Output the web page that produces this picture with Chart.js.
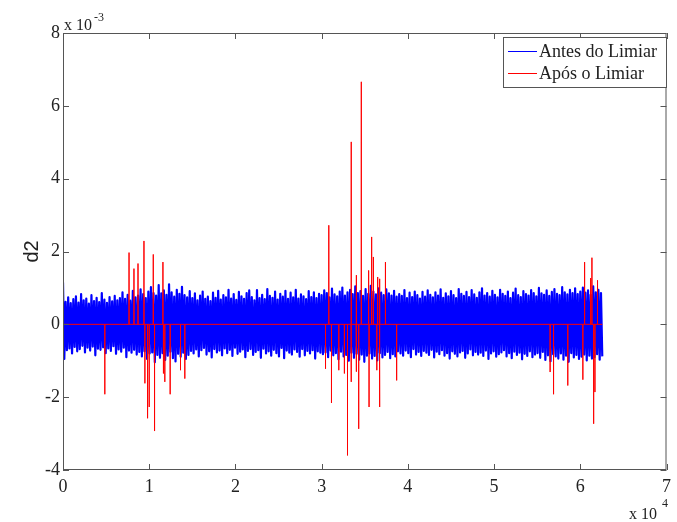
<!DOCTYPE html>
<html>
<head>
<meta charset="utf-8">
<script src="https://cdn.jsdelivr.net/npm/chart.js@4"></script>
<style>
  body { margin: 0; background: #fff; }
  #grafico { display: block; }
</style>
</head>
<body>
<canvas id="grafico" width="677" height="522"></canvas>
<script>
// coeficientes de detalhe d2 (x 10^-3), um valor a cada 150 amostras
const passo = 150
const antes = [
  1.15,-0.95,0.62,-0.71,0.74,-0.66,0.58,-0.80,0.69,-0.62,0.77,-0.74,0.60,-0.68,0.83,-0.59,0.66,-0.77,0.71,-0.64,
  0.57,-0.72,0.80,-0.61,0.64,-0.85,0.73,-0.67,0.61,-0.70,0.86,-0.63,0.68,-0.79,0.59,-0.66,0.75,-0.73,0.63,-0.60,
  0.78,-0.81,0.66,-0.69,0.72,-0.75,0.88,-0.64,0.70,-0.90,0.81,-0.72,0.65,-0.78,0.92,-0.70,0.74,-0.83,0.79,-0.76,
  0.96,-0.88,0.83,-0.74,0.72,-0.95,0.90,-0.80,1.02,-0.77,0.86,-1.04,0.79,-0.84,1.08,-0.92,0.85,-0.79,0.93,-0.98,
  0.81,-0.86,1.10,-0.75,0.88,-0.93,0.76,-1.02,0.95,-0.81,0.84,-0.89,1.03,-0.78,0.80,-0.95,0.74,-0.84,0.91,-0.73,
  0.72,-0.80,0.85,-0.69,0.66,-0.88,0.79,-0.71,0.90,-0.65,0.70,-0.83,0.76,-0.74,0.64,-0.91,0.87,-0.68,0.73,-0.77,
  0.92,-0.72,0.68,-0.85,0.80,-0.66,0.74,-0.79,0.95,-0.70,0.71,-0.87,0.83,-0.64,0.67,-0.81,0.89,-0.75,0.77,-0.69,
  0.70,-0.90,0.86,-0.73,0.93,-0.68,0.75,-0.84,0.66,-0.76,0.94,-0.71,0.72,-0.92,0.81,-0.67,0.69,-0.80,0.97,-0.74,
  0.78,-0.86,0.73,-0.70,0.90,-0.79,0.68,-0.88,0.84,-0.65,0.76,-0.93,0.92,-0.72,0.70,-0.78,0.87,-0.83,0.74,-0.69,
  0.95,-0.76,0.71,-0.89,0.82,-0.68,0.77,-0.85,0.69,-0.73,0.91,-0.80,0.75,-0.71,0.88,-0.94,0.72,-0.74,0.84,-0.78,
  0.80,-0.82,0.93,-0.77,0.86,-0.90,0.74,-0.72,0.98,-0.85,0.82,-0.79,0.77,-0.96,0.90,-0.75,1.01,-0.88,0.79,-0.84,
  0.88,-1.00,0.95,-0.78,0.83,-0.92,1.04,-0.81,0.86,-0.97,0.91,-0.83,0.78,-1.03,0.97,-0.86,0.84,-0.80,1.06,-0.94,
  0.90,-0.87,0.82,-0.99,0.99,-0.79,0.87,-0.91,0.80,-0.84,0.96,-0.76,0.85,-0.93,0.79,-0.82,0.92,-0.88,0.76,-0.74,
  0.83,-0.80,0.78,-0.86,0.94,-0.72,0.72,-0.79,0.87,-0.90,0.75,-0.68,0.90,-0.83,0.80,-0.76,0.71,-0.87,0.89,-0.73,
  0.76,-0.78,0.93,-0.84,0.81,-0.70,0.74,-0.91,0.88,-0.75,0.79,-0.82,0.96,-0.71,0.73,-0.86,0.85,-0.79,0.77,-0.94,
  0.91,-0.74,0.80,-0.81,0.72,-0.88,0.97,-0.77,0.84,-0.73,0.78,-0.92,0.89,-0.80,0.75,-0.69,0.94,-0.85,0.82,-0.76,
  0.73,-0.83,0.88,-0.78,0.99,-0.87,0.79,-0.72,0.86,-0.95,0.76,-0.80,0.92,-0.74,0.81,-0.89,0.74,-0.82,0.95,-0.77,
  0.84,-0.71,0.78,-0.88,0.90,-0.79,0.72,-0.93,0.87,-0.75,0.98,-0.84,0.80,-0.78,0.75,-0.96,0.91,-0.81,0.83,-0.87,
  0.79,-0.74,0.94,-0.90,0.86,-0.83,0.77,-0.79,1.00,-0.92,0.85,-0.76,0.81,-0.98,0.93,-0.85,0.78,-1.01,0.89,-0.82,
  0.97,-0.88,0.84,-0.94,0.80,-0.80,1.02,-0.97,0.88,-0.86,0.82,-1.03,0.95,-0.79,0.86,-0.91,0.99,-0.84,0.83,-0.95,
  0.90,-0.89,1.01,-0.83,0.87,-0.99,0.93,-0.86,0.81,-0.94,1.04,-0.90,0.88,-0.82,0.95,-0.97,0.86,-0.88
]

// coeficientes que sobraram depois do limiar (o resto vale zero)
const picos_x = [
  4850, 7660, 8230, 8700, 9390, 9500, 9810, 10000, 10470, 10620, 11590, 11650, 11810, 12430, 13630, 14130,
  30450, 30830, 31140, 31990, 32640, 33000, 33410, 33450, 34000, 34050, 34300, 34600, 35450, 35500, 35800,
  36000, 36400, 36500, 36700, 36750, 37400, 38700,
  56500, 56900, 58550, 60300, 60500, 61200, 61350, 61550, 61700, 62000
]
const picos_y = [
  -1.92, 1.97, 1.53, 1.67, 2.29, -1.62, -2.58, -2.27, 1.92, -2.93, 1.71, -1.35, -1.58, -1.92, -1.26, -1.49,
  -1.22, 2.72, -2.16, -1.26, -1.35, -3.60, 5.01, -1.58, 1.35, -1.30, -2.87, 6.66, 1.48, -2.27, 2.40,
  1.85, -1.26, 1.30, 1.25, -2.27, 1.71, -1.54,
  -1.31, -1.92, -1.68, -1.52, 1.71, 1.27, 1.83, -2.73, -1.86, 1.21
]

const x_ticks = [0, 1, 2, 3, 4, 5, 6, 7]
const y_ticks = [-4, -2, 0, 2, 4, 6, 8]
const nomes = ['Antes do Limiar', 'Após o Limiar']
const cores = ['#0000ff', '#ff0000']

const fim = (antes.length - 1) * passo

let pts_antes = antes.map((v, i) => ({ x: i * passo, y: v }))

let pts_depois = [{ x: 0, y: 0 }]
for (let i = 0; i < picos_x.length; i++) {
  pts_depois.push({ x: picos_x[i], y: 0 })
  pts_depois.push({ x: picos_x[i], y: picos_y[i] })
  pts_depois.push({ x: picos_x[i], y: 0 })
}
pts_depois.push({ x: fim, y: 0 })

const serif = '"Liberation Serif", "Times New Roman", serif'

// caixa, ticks para dentro, expoentes, rotulo d2 e legenda
const moldura = {
  id: 'moldura',
  afterDraw(chart) {
    const c = chart.ctx
    const a = chart.chartArea
    const sx = chart.scales.x
    const sy = chart.scales.y
    c.save()
    c.strokeStyle = '#555'
    c.lineWidth = 1
    c.strokeRect(a.left + 0.5, a.top + 0.5, a.right - a.left - 1, a.bottom - a.top - 1)
    c.beginPath()
    x_ticks.forEach(t => {
      const px = Math.round(sx.getPixelForValue(t * 10000)) + 0.5
      c.moveTo(px, a.bottom); c.lineTo(px, a.bottom - 6)
      c.moveTo(px, a.top); c.lineTo(px, a.top + 6)
    })
    y_ticks.forEach(t => {
      const py = Math.round(sy.getPixelForValue(t)) + 0.5
      c.moveTo(a.left, py); c.lineTo(a.left + 6, py)
      c.moveTo(a.right, py); c.lineTo(a.right - 6, py)
    })
    c.stroke()

    c.fillStyle = '#222'
    c.textAlign = 'left'
    c.textBaseline = 'alphabetic'
    c.font = '16px ' + serif
    c.fillText('x 10', a.left + 1, a.top - 3)
    c.fillText('x 10', 629, 519)
    c.font = '12px ' + serif
    c.fillText('-3', a.left + 31, a.top - 12)
    c.fillText('4', 662, 507)

    c.font = '20px "Liberation Sans", Arial, sans-serif'
    c.textAlign = 'center'
    c.translate(38, (a.top + a.bottom) / 2)
    c.rotate(-Math.PI / 2)
    c.fillText('d2', 0, 0)
    c.restore()

    // legenda
    c.save()
    const lx = 503, ly = 37, lw = 163, lh = 50
    c.fillStyle = '#fff'
    c.fillRect(lx, ly, lw, lh)
    c.strokeStyle = '#555'
    c.lineWidth = 1
    c.strokeRect(lx + 0.5, ly + 0.5, lw, lh)
    c.font = '18px ' + serif
    c.textAlign = 'left'
    nomes.forEach((n, i) => {
      const y = ly + 14 + i * 22
      c.strokeStyle = cores[i]
      c.beginPath()
      c.moveTo(lx + 5, y + 0.5); c.lineTo(lx + 34, y + 0.5)
      c.stroke()
      c.fillStyle = '#222'
      c.fillText(n, lx + 36, y + 6)
    })
    c.restore()
  }
}

const ctx = document.getElementById('grafico')

new Chart(ctx, {
  type: 'line',
  data: {
    datasets: [{
      label: nomes[0],
      data: pts_antes,
      borderColor: cores[0],
      borderWidth: 2.2,
      borderJoinStyle: 'round',
      pointRadius: 0,
      tension: 0,
      order: 2
    }, {
      label: nomes[1],
      data: pts_depois,
      borderColor: cores[1],
      borderWidth: 1,
      pointRadius: 0,
      tension: 0,
      order: 1
    }]
  },
  options: {
    responsive: false,
    animation: false,
    events: [],
    layout: { padding: { top: 33, right: 8, left: 0, bottom: 0 } },
    plugins: {
      legend: { display: false },
      tooltip: { enabled: false }
    },
    scales: {
      x: {
        type: 'linear',
        min: 0,
        max: 70000,
        grid: { display: false, drawTicks: false },
        border: { display: false },
        ticks: {
          stepSize: 10000,
          autoSkip: false,
          maxRotation: 0,
          padding: 6,
          color: '#222',
          font: { family: serif, size: 18 },
          callback: v => v / 10000
        },
        afterFit: s => { s.height = 52 }
      },
      y: {
        min: -4,
        max: 8,
        grid: { display: false, drawTicks: false },
        border: { display: false },
        ticks: {
          stepSize: 2,
          padding: 3,
          color: '#222',
          font: { family: serif, size: 18 }
        },
        afterFit: s => { s.width = 63 }
      }
    }
  },
  plugins: [moldura]
});
</script>
</body>
</html>
